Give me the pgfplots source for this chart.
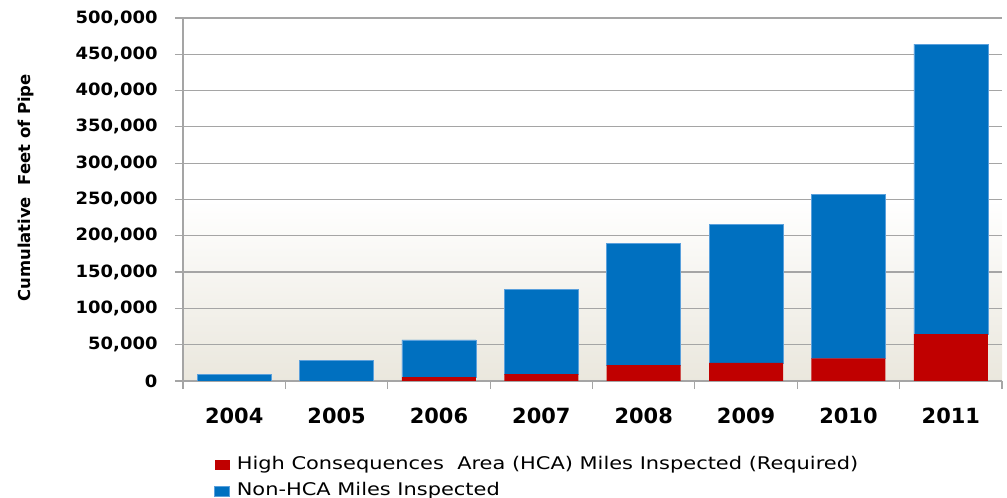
\documentclass[border=0pt]{standalone}
\usepackage{pgfplots}
\pgfplotsset{compat=1.18}
\usepackage{fontspec}
\setmainfont{DejaVu Sans}
\newfontfamily\legfont[FakeStretch=1.2]{DejaVu Sans}
\newfontfamily\tickfont[FakeStretch=1.06]{DejaVu Sans}

\definecolor{hcared}{RGB}{192,0,0}
\definecolor{nonblue}{RGB}{0,112,192}
\definecolor{bgbeige}{RGB}{234,231,221}
\definecolor{gridgray}{RGB}{165,165,165}

% plot area: white in the upper half, fading to beige towards the baseline
\pgfdeclareverticalshading{plotbg}{100bp}{%
  color(0bp)=(bgbeige); color(25bp)=(bgbeige); color(50bp)=(white);
  color(75bp)=(white); color(100bp)=(white)}

\begin{document}
\begin{tikzpicture}
\path[use as bounding box] (0,0) rectangle (1007bp,498bp);
\begin{axis}[
  at={(183bp,117bp)}, anchor=south west,
  scale only axis, width=819bp, height=363bp,
  axis background/.style={shading=plotbg},
  ybar stacked, bar width=0.723,
  xmin=-0.5, xmax=7.5, ymin=0, ymax=500000,
  axis x line*=bottom, axis y line*=left,
  axis line style={draw=gridgray, line width=1.2bp},
  tick align=outside, major tick length=8bp,
  xtick style={draw=gridgray, line width=1.2bp},
  ytick style={draw=gridgray, line width=1.2bp},
  % category names sit between the tick marks
  xtick={-0.5,0.5,...,7.5}, x tick label as interval,
  xticklabels={2004,2005,2006,2007,2008,2009,2010,2011},
  xticklabel style={font=\fontsize{21}{24}\selectfont\bfseries, yshift=-15bp},
  ytick={0,50000,...,500000},
  scaled y ticks=false,
  yticklabel style={font=\tickfont\fontsize{17}{20}\selectfont\bfseries, xshift=-14bp},
  /pgf/number format/.cd, fixed, 1000 sep={,}, assume math mode=true,
  /pgfplots/.cd,
  ymajorgrids, grid style={draw=gridgray, line width=1.2bp},
  every axis y label/.style={at={(rel axis cs:-0.192,0.532)}, rotate=90, anchor=center,
    font=\fontsize{16.5}{19}\selectfont\bfseries},
  ylabel={Cumulative\ \ Feet of Pipe},
  legend style={at={(rel axis cs:0.0379,-0.207)}, anchor=north west,
    draw=none, fill=none, inner sep=0pt, row sep=9bp, column sep=7bp,
    font=\legfont\fontsize{17.5}{20}\selectfont,
    nodes={inner sep=0pt, text height=13bp, text depth=4bp}},
  legend cell align=left,
  legend image code/.code={\fill[#1] (0bp,-5bp) rectangle (15bp,5bp);},
]
\addplot[fill=hcared, draw=none] coordinates
  {(0,0) (1,0) (2,5500) (3,9600) (4,22000) (5,24800) (6,31300) (7,64700)};
\addplot[fill=nonblue, draw={rgb,255:red,90;green,160;blue,220}, line width=0.6bp] coordinates
  {(0,9500) (1,28000) (2,51000) (3,117100) (4,167700) (5,190600) (6,225700) (7,399300)};
\legend{High Consequences\ \ Area (HCA) Miles Inspected (Required), Non-HCA Miles Inspected}
\end{axis}
\end{tikzpicture}
\end{document}
